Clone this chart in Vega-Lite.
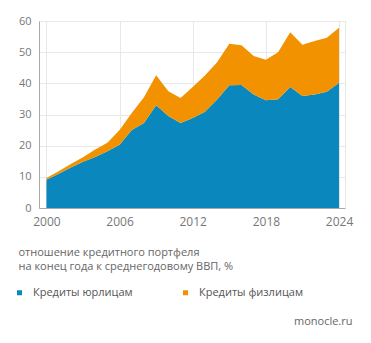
{
  "$schema": "https://vega.github.io/schema/vega-lite/v6.json",
  "width": 306,
  "height": 187,
  "autosize": {"type": "none"},
  "padding": {"left": 39, "top": 21, "right": 26, "bottom": 135},
  "config": {
    "font": "Open Sans",
    "view": {"stroke": "#e6e6e6"},
    "axis": {"gridColor": "#e8e8e8", "domainColor": "#aaaaaa", "labelColor": "#777777", "ticks": false}
  },
  "data": {
    "values": [
      {"year": 2000, "type": "Кредиты юрлицам", "ord": 1, "value": 9.1},
      {"year": 2001, "type": "Кредиты юрлицам", "ord": 1, "value": 11.0},
      {"year": 2002, "type": "Кредиты юрлицам", "ord": 1, "value": 13.0},
      {"year": 2003, "type": "Кредиты юрлицам", "ord": 1, "value": 14.8},
      {"year": 2004, "type": "Кредиты юрлицам", "ord": 1, "value": 16.4},
      {"year": 2005, "type": "Кредиты юрлицам", "ord": 1, "value": 18.2},
      {"year": 2006, "type": "Кредиты юрлицам", "ord": 1, "value": 20.3},
      {"year": 2007, "type": "Кредиты юрлицам", "ord": 1, "value": 25.0},
      {"year": 2008, "type": "Кредиты юрлицам", "ord": 1, "value": 27.3},
      {"year": 2009, "type": "Кредиты юрлицам", "ord": 1, "value": 33.0},
      {"year": 2010, "type": "Кредиты юрлицам", "ord": 1, "value": 29.5},
      {"year": 2011, "type": "Кредиты юрлицам", "ord": 1, "value": 27.3},
      {"year": 2012, "type": "Кредиты юрлицам", "ord": 1, "value": 28.9},
      {"year": 2013, "type": "Кредиты юрлицам", "ord": 1, "value": 30.9},
      {"year": 2014, "type": "Кредиты юрлицам", "ord": 1, "value": 34.8},
      {"year": 2015, "type": "Кредиты юрлицам", "ord": 1, "value": 39.4},
      {"year": 2016, "type": "Кредиты юрлицам", "ord": 1, "value": 39.5},
      {"year": 2017, "type": "Кредиты юрлицам", "ord": 1, "value": 36.4},
      {"year": 2018, "type": "Кредиты юрлицам", "ord": 1, "value": 34.6},
      {"year": 2019, "type": "Кредиты юрлицам", "ord": 1, "value": 34.9},
      {"year": 2020, "type": "Кредиты юрлицам", "ord": 1, "value": 38.8},
      {"year": 2021, "type": "Кредиты юрлицам", "ord": 1, "value": 35.9},
      {"year": 2022, "type": "Кредиты юрлицам", "ord": 1, "value": 36.4},
      {"year": 2023, "type": "Кредиты юрлицам", "ord": 1, "value": 37.3},
      {"year": 2024, "type": "Кредиты юрлицам", "ord": 1, "value": 40.2},
      {"year": 2000, "type": "Кредиты физлицам", "ord": 2, "value": 0.5},
      {"year": 2001, "type": "Кредиты физлицам", "ord": 2, "value": 0.8},
      {"year": 2002, "type": "Кредиты физлицам", "ord": 2, "value": 1.1},
      {"year": 2003, "type": "Кредиты физлицам", "ord": 2, "value": 1.5},
      {"year": 2004, "type": "Кредиты физлицам", "ord": 2, "value": 2.4},
      {"year": 2005, "type": "Кредиты физлицам", "ord": 2, "value": 2.7},
      {"year": 2006, "type": "Кредиты физлицам", "ord": 2, "value": 4.7},
      {"year": 2007, "type": "Кредиты физлицам", "ord": 2, "value": 5.5},
      {"year": 2008, "type": "Кредиты физлицам", "ord": 2, "value": 8.2},
      {"year": 2009, "type": "Кредиты физлицам", "ord": 2, "value": 9.6},
      {"year": 2010, "type": "Кредиты физлицам", "ord": 2, "value": 8.0},
      {"year": 2011, "type": "Кредиты физлицам", "ord": 2, "value": 8.0},
      {"year": 2012, "type": "Кредиты физлицам", "ord": 2, "value": 9.9},
      {"year": 2013, "type": "Кредиты физлицам", "ord": 2, "value": 11.6},
      {"year": 2014, "type": "Кредиты физлицам", "ord": 2, "value": 12.0},
      {"year": 2015, "type": "Кредиты физлицам", "ord": 2, "value": 13.3},
      {"year": 2016, "type": "Кредиты физлицам", "ord": 2, "value": 12.7},
      {"year": 2017, "type": "Кредиты физлицам", "ord": 2, "value": 12.4},
      {"year": 2018, "type": "Кредиты физлицам", "ord": 2, "value": 13.0},
      {"year": 2019, "type": "Кредиты физлицам", "ord": 2, "value": 15.1},
      {"year": 2020, "type": "Кредиты физлицам", "ord": 2, "value": 17.6},
      {"year": 2021, "type": "Кредиты физлицам", "ord": 2, "value": 16.5},
      {"year": 2022, "type": "Кредиты физлицам", "ord": 2, "value": 17.2},
      {"year": 2023, "type": "Кредиты физлицам", "ord": 2, "value": 17.3},
      {"year": 2024, "type": "Кредиты физлицам", "ord": 2, "value": 17.6}
    ]
  },
  "mark": {"type": "area", "interpolate": "linear"},
  "encoding": {
    "x": {
      "field": "year",
      "type": "quantitative",
      "scale": {"domain": [1999.39, 2024.49], "nice": false, "zero": false},
      "axis": {
        "values": [2000, 2006, 2012, 2018, 2024],
        "format": "d",
        "labelFontSize": 12,
        "labelPadding": 8,
        "labelFlush": false,
        "title": ["отношение кредитного портфеля", "на конец года к среднегодовому ВВП, %"],
        "titleFontSize": 11,
        "titleFontWeight": "normal",
        "titleColor": "#666666",
        "titleAnchor": "start",
        "titleAlign": "left",
        "titleBaseline": "alphabetic",
        "titleX": -21,
        "titleY": 47,
        "titleLineHeight": 14
      }
    },
    "y": {
      "field": "value",
      "type": "quantitative",
      "stack": "zero",
      "scale": {"domain": [0, 60], "nice": false},
      "axis": {
        "values": [0, 10, 20, 30, 40, 50, 60],
        "labelFontSize": 11,
        "labelPadding": 8,
        "title": "monocle.ru",
        "titleAngle": 0,
        "titleFontSize": 11,
        "titleFontWeight": "normal",
        "titleColor": "#666666",
        "titleAlign": "right",
        "titleBaseline": "alphabetic",
        "titleX": 313,
        "titleY": 303
      }
    },
    "color": {
      "field": "type",
      "type": "nominal",
      "scale": {"domain": ["Кредиты юрлицам", "Кредиты физлицам"], "range": ["#0a88bd", "#f39200"]},
      "legend": {
        "title": null,
        "orient": "none",
        "legendX": -25,
        "legendY": 266,
        "direction": "horizontal",
        "columns": 2,
        "columnPadding": 47,
        "padding": 0,
        "symbolType": "square",
        "symbolSize": 25,
        "symbolStrokeWidth": 0,
        "labelFontSize": 11,
        "labelColor": "#555555",
        "labelOffset": 8
      }
    },
    "order": {"field": "ord", "type": "quantitative"}
  }
}
